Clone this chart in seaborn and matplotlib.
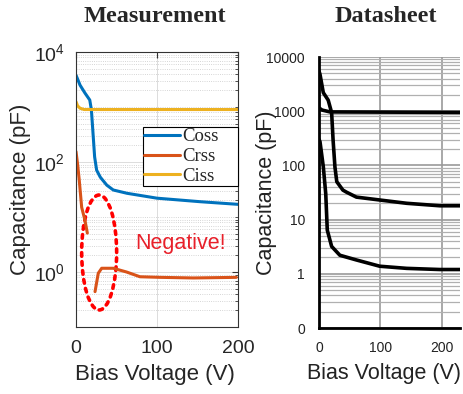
import numpy as np
import pandas as pd
import matplotlib
matplotlib.use("Agg")
import matplotlib.pyplot as plt
import seaborn as sns
from matplotlib.patches import Ellipse
from matplotlib.ticker import LogLocator, FixedLocator, NullFormatter

# =====================================
# Data
# =====================================

# Measurement panel
meas_coss_v = [0, 5, 11, 17, 19, 21, 23, 25.5, 30, 38, 46, 63, 100, 153, 200]
meas_coss = [3800, 2500, 1800, 1340, 890, 335, 124, 71, 53, 38, 31, 27, 22, 19, 17]

# Crss goes negative between ~15 V and ~23 V -> two pieces
meas_crss_v_a = [0, 2, 4, 7, 11, 14]
meas_crss_a = [155, 90, 47, 15, 8.8, 5.1]
meas_crss_v_b = [23.5, 27.5, 31.7, 46, 62.5, 79, 104, 145, 198]
meas_crss_b = [0.44, 0.95, 1.17, 1.17, 1.0, 0.82, 0.8, 0.78, 0.8]

meas_ciss_v = [0, 2, 5, 10, 200]
meas_ciss = [1250, 1050, 950, 900, 900]

# Datasheet panel
ds_coss_v = [0, 1.6, 7, 15, 20.6, 23, 26, 29, 39, 45, 61, 99, 143, 197, 230]
ds_coss = [5500, 4800, 2200, 1600, 940, 290, 93, 50, 35, 32, 26, 23, 20, 18, 18]

ds_crss_v = [0, 1.6, 7, 11, 13.5, 20.6, 34, 61, 99, 143, 197, 230]
ds_crss = [300, 275, 95, 30, 6.4, 3.2, 2.2, 1.8, 1.38, 1.26, 1.2, 1.2]

ds_ciss_v = [0, 5, 18, 230]
ds_ciss = [1150, 1050, 970, 950]

ds_ytick_labels = ["0", "1", "10", "100", "1000", "10000"]

series_names = ["Coss", "Crss", "Ciss"]
matlab_colors = ["#0072BD", "#D95319", "#EDB120"]

# =====================================
# Style
# =====================================

sns.set_style("white")
plt.rcParams["font.family"] = ["Liberation Sans", "DejaVu Sans"]
plt.rcParams["mathtext.default"] = "regular"

fig = plt.figure(figsize=(4.64, 3.94), dpi=100)
ax1 = fig.add_axes([0.1638, 0.170, 0.349, 0.698])
ax2 = fig.add_axes([0.6875, 0.1675, 0.304, 0.6878])

# =====================================
# Measurement
# =====================================

lw = 2.2
coss_df = pd.DataFrame({"V": meas_coss_v, "C": meas_coss})
sns.lineplot(data=coss_df, x="V", y="C", ax=ax1, color=matlab_colors[0],
             lw=lw, label=series_names[0], sort=False)
crss_a = pd.DataFrame({"V": meas_crss_v_a, "C": meas_crss_a})
sns.lineplot(data=crss_a, x="V", y="C", ax=ax1, color=matlab_colors[1],
             lw=lw, label=series_names[1], sort=False)
crss_b = pd.DataFrame({"V": meas_crss_v_b, "C": meas_crss_b})
sns.lineplot(data=crss_b, x="V", y="C", ax=ax1, color=matlab_colors[1],
             lw=lw, sort=False)
ciss_df = pd.DataFrame({"V": meas_ciss_v, "C": meas_ciss})
sns.lineplot(data=ciss_df, x="V", y="C", ax=ax1, color=matlab_colors[2],
             lw=lw, label=series_names[2], sort=False)

ax1.set_yscale("log")
ax1.set_xlim(0, 200)
ax1.set_ylim(0.1, 1e4)
ax1.set_xticks([0, 100, 200])
ax1.yaxis.set_major_locator(FixedLocator([1, 100, 1e4]))
ax1.yaxis.set_minor_locator(LogLocator(base=10, subs=np.arange(1, 10), numticks=20))
ax1.yaxis.set_minor_formatter(NullFormatter())

ax1.grid(True, which="major", color="#dcdcdc", lw=0.7, ls="-")
ax1.grid(True, which="minor", axis="y", color="#c8c8c8", lw=0.6, ls=":")
ax1.tick_params(axis="both", which="major", direction="in", labelsize=14,
                length=4, top=True, right=True, color="#333333")
ax1.tick_params(axis="y", which="minor", direction="in", length=2,
                right=True, color="#333333")
ax1.tick_params(axis="y", pad=8)
ax1.tick_params(axis="x", pad=9)
for sp in ax1.spines.values():
    sp.set_color("#333333")
    sp.set_linewidth(0.8)

ax1.set_xlabel("Bias Voltage (V)", fontsize=16)
ax1.set_ylabel("Capacitance (pF)", fontsize=16)
ax1.xaxis.set_label_coords(0.49, -0.135)
ax1.yaxis.set_label_coords(-0.28, 0.5)

leg = ax1.legend(loc="upper right", bbox_to_anchor=(0.414, 0.0, 0.586, 0.727),
                 mode="expand", borderaxespad=0, fancybox=False, frameon=True,
                 handlelength=1.9, handletextpad=0.15, borderpad=0.05,
                 labelspacing=0.15,
                 prop={"family": "Liberation Serif", "size": 13.5})
leg.get_frame().set_edgecolor("black")
leg.get_frame().set_linewidth(0.8)
leg.get_frame().set_alpha(1)

ell = Ellipse((0.143, 0.271), 0.216, 0.418, transform=ax1.transAxes,
              fill=False, edgecolor="red", lw=2.6, ls=(0, (1, 1.5)),
              capstyle="round")
ax1.add_patch(ell)
ax1.text(0.648, 0.305, "Negative!", transform=ax1.transAxes, color="#e8202a",
         fontsize=15.5, ha="center", va="center")

# =====================================
# Datasheet
# =====================================

for v, c in [(ds_coss_v, ds_coss), (ds_crss_v, ds_crss), (ds_ciss_v, ds_ciss)]:
    d = pd.DataFrame({"V": v, "C": c})
    sns.lineplot(data=d, x="V", y="C", ax=ax2, color="black", lw=2.6, sort=False)

ax2.set_yscale("log")
ax2.set_xlim(0, 230)
ax2.set_ylim(0.1, 1e4)
ax2.set_xticks([0, 100, 200])
ax2.set_yticks([0.1, 1, 10, 100, 1000, 10000])
ax2.set_yticklabels(ds_ytick_labels)
ax2.yaxis.set_minor_locator(LogLocator(base=10, subs=np.arange(2, 10), numticks=20))
ax2.yaxis.set_minor_formatter(NullFormatter())
ax2.grid(True, which="major", color="#9a9a9a", lw=1.2)
ax2.grid(True, which="minor", axis="y", color="#b0b0b0", lw=0.9)
ax2.tick_params(axis="both", which="both", length=0, labelsize=10,
                labelcolor="#222222")
ax2.tick_params(axis="y", pad=10)
ax2.tick_params(axis="x", pad=9)
ax2.spines["top"].set_visible(False)
ax2.spines["right"].set_visible(False)
ax2.spines["left"].set_linewidth(2)
ax2.spines["bottom"].set_linewidth(2)
ax2.spines["left"].set_color("black")
ax2.spines["bottom"].set_color("black")
ax2.set_xlabel("Bias Voltage (V)", fontsize=15.5, color="#222222")
ax2.set_ylabel("Capacitance (pF)", fontsize=15.5, color="#222222")
ax2.xaxis.set_label_coords(0.46, -0.13)
ax2.yaxis.set_label_coords(-0.30, 0.5)

# =====================================
# Titles
# =====================================

fig.text(155 / 464, 1 - 17 / 394, "Measurement", family="Liberation Serif",
         weight="bold", fontsize=17.5, ha="center", va="center")
fig.text(386 / 464, 1 - 17 / 394, "Datasheet", family="Liberation Serif",
         weight="bold", fontsize=17.5, ha="center", va="center")

plt.savefig("out.png", dpi=100)
plt.close()
